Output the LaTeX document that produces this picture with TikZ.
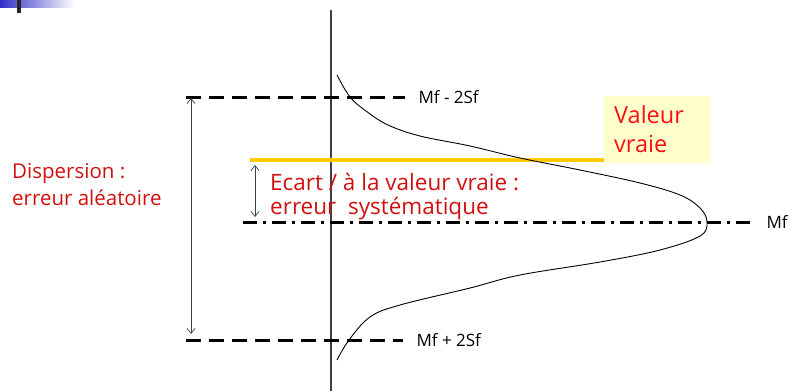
\documentclass[tikz,border=0pt]{standalone}
\usepackage{fontspec}
\setmainfont{Open Sans}
\usetikzlibrary{positioning,calc,arrows.meta}
\definecolor{errred}{HTML}{D01010}
\definecolor{truered}{HTML}{FF1010}
\definecolor{gold}{HTML}{FFCC00}
\definecolor{paleyellow}{HTML}{FFFFCC}
\definecolor{slideblue}{HTML}{3030C8}

\begin{document}
\begin{tikzpicture}[x=1pt, y=-1pt,
  level/.style={line width=3pt, dash pattern=on 15pt off 8pt},
  mean/.style={line width=3pt, dash pattern=on 14pt off 6pt on 3pt off 6pt},
  span/.style={draw=black!75, line width=0.7pt, {Straight Barb[length=5pt,width=8pt]}-{Straight Barb[length=5pt,width=8pt]}},
  tag/.style={anchor=west, inner sep=0pt, font=\fontsize{17}{19}\selectfont},
  note/.style={anchor=base west, align=left, inner sep=0pt, text=errred}]
  \useasboundingbox (0,0) rectangle (789,391);

  % Slide decoration
  \shade[left color=slideblue, right color=white] (0,0) rectangle (75,7);
  \fill[black!85] (17,0) rectangle (21,13);

  % Axis
  \draw[black!75, line width=1.1pt] (331,10) -- (331,391);

  % Levels
  \coordinate (hiL) at (186,97);
  \coordinate (hiR) at (405,97);
  \coordinate (loL) at (186,340);
  \coordinate (loR) at (403,340);
  \coordinate (mL) at (243,222);
  \coordinate (mR) at (755,222);
  \draw[level] (hiL) -- (hiR) node[tag, right=12pt] (hi) {Mf - 2Sf};
  \draw[level] (loL) -- (loR) node[tag, right=12pt] (lo) {Mf + 2Sf};
  \draw[mean] (mL) -- (mR) node[tag, right=10pt] (m) {Mf};

  % True value
  \node[fill=paleyellow, minimum width=106pt, minimum height=67pt, anchor=north west] (box) at (604,96) {};
  \node[note, text=truered, font=\fontsize{23.5}{29}\selectfont] (vraie) at (614,152) {Valeur\\vraie};
  \coordinate (tvL) at (250,160);
  \draw[gold, line width=3.5pt] (tvL) -- (tvL -| box.west);

  % Distribution
  \draw[line width=0.9pt] plot[smooth, tension=0.6] coordinates {
    (337,75) (350,97) (366,111) (388,125) (420,136) (470,146) (520,158)
    (580,170) (640,183) (680,195) (700,208) (707,222) (700,236) (660,250)
    (600,262) (520,275) (470,288) (400,305) (370,317) (349,340) (337,360)};

  % Spreads
  \coordinate (dA) at (191,98);
  \coordinate (dB) at (191,334);
  \draw[span] (dA) -- (dB);
  \coordinate (eA) at (255,165);
  \coordinate (eB) at (255,217);
  \draw[span] (eA) -- (eB);

  % Labels
  \node[note, font=\fontsize{20.5}{27}\selectfont] (disp) at (12,205) {Dispersion :\\erreur al\'eatoire};
  \node[note, font=\fontsize{22.5}{24}\selectfont] (ecart) at (270,214) {Ecart / \`a la valeur vraie :\\erreur\ \ syst\'ematique};
\end{tikzpicture}
\end{document}
